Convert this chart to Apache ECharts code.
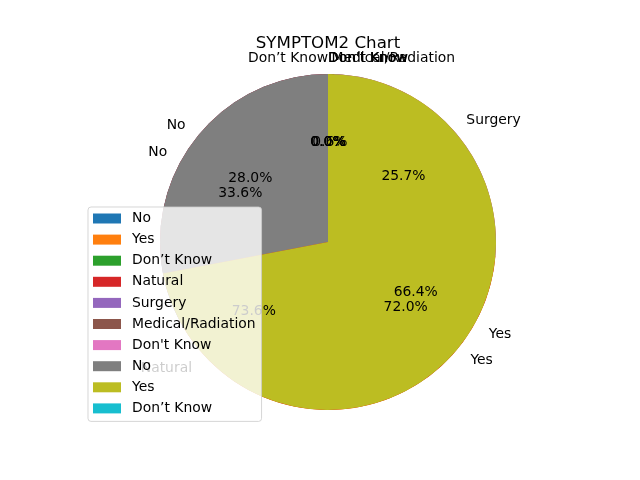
<!DOCTYPE html>
<html><head><meta charset="utf-8">
<script src="https://cdn.jsdelivr.net/npm/echarts@6/dist/echarts.min.js"></script>
<style>html,body{margin:0;padding:0;background:#fff}#c{width:640px;height:480px}</style>
</head><body><div id="c"></div>
<script>
const titleText = 'SYMPTOM2 Chart';
const pie1Labels = ['No', 'Yes', 'Don\u2019t Know'];
const pie1Values = [33.6, 66.4, 0.0];
const pie2Labels = ['Natural', 'Surgery', 'Medical/Radiation', "Don't Know"];
const pie2Values = [73.6, 25.7, 0.6, 0.0];
const pie3Labels = ['No', 'Yes', 'Don\u2019t Know'];
const pie3Values = [28.0, 72.0, 0.0];
const palette = ['#1f77b4','#ff7f0e','#2ca02c','#d62728','#9467bd','#8c564b','#e377c2','#7f7f7f','#bcbd22','#17becf'];
const zeroAlign = ['right', 'left', 'left'];

const CX = 328, CY = 242, R = 168;
const font = 'DejaVu Sans';
const pies = [[pie1Labels, pie1Values], [pie2Labels, pie2Values], [pie3Labels, pie3Values]];
const strip = s => s.split('#')[0];
let ci = 0;
const wedgeSeries = [], labelSeries = [], legendData = [];
pies.forEach(([labels, values], k) => {
  const wdata = labels.map((l, i) => {
    const name = l + '#w' + k + '_' + i;
    legendData.push(name);
    return {name: name, value: values[i], itemStyle: {color: palette[(ci++) % 10]}};
  });
  wedgeSeries.push({
    type: 'pie', center: [CX, CY], radius: R, startAngle: 90, clockwise: false, z: 2,
    label: {show: false}, labelLine: {show: false}, itemStyle: {borderWidth: 0},
    data: wdata, silent: true, emphasis: {disabled: true}, animation: false, avoidLabelOverlap: false
  });
  const common = {
    type: 'pie', center: [CX, CY], startAngle: 90, clockwise: false, z: 3, silent: true, radius: R,
    emphasis: {disabled: true}, animation: false, avoidLabelOverlap: false, minShowLabelAngle: 0,
    itemStyle: {color: 'rgba(0,0,0,0)', borderWidth: 0}, legendHoverLink: false
  };
  // name labels at 1.1 R
  labelSeries.push(Object.assign({}, common, {
    label: {show: true, position: 'outside', color: '#000', fontFamily: font, fontSize: 13.9,
      distanceToLabelLine: 0, formatter: p => strip(p.name)},
    labelLine: {show: false, length: 0.1 * R, length2: 0},
    labelLayout: p => (values[p.dataIndex] === 0 ? {align: zeroAlign[k], dy: 1} : {dy: 1}),
    data: labels.map((l, i) => ({name: l + '#o' + k + '_' + i, value: values[i]}))
  }));
  // percentage labels at 0.6 R
  labelSeries.push(Object.assign({}, common, {
    label: {show: true, position: 'outside', color: '#000', fontFamily: font, fontSize: 13.9,
      distanceToLabelLine: 0, formatter: p => p.value.toFixed(1) + '%'},
    labelLine: {show: false, length: -0.4 * R, length2: 0},
    labelLayout: () => ({align: 'center', dy: 1}),
    data: labels.map((l, i) => ({name: l + '#i' + k + '_' + i, value: values[i]}))
  }));
});

const chart = echarts.init(document.getElementById('c'));
chart.setOption({
  backgroundColor: '#fff',
  animation: false,
  textStyle: {fontFamily: font},
  title: {text: titleText, left: 328, top: 35, textAlign: 'center', padding: 0,
    textStyle: {fontFamily: font, fontSize: 16.67, fontWeight: 'normal', color: '#000'}},
  legend: {
    orient: 'vertical', left: 88, top: 207, data: legendData, formatter: strip,
    icon: 'rect', itemWidth: 28, itemHeight: 10, itemGap: 7.1, padding: [4.5, 6, 6, 5],
    backgroundColor: 'rgba(255,255,255,0.8)', borderColor: 'rgba(204,204,204,0.8)', borderWidth: 1, borderRadius: 3,
    textStyle: {fontFamily: font, fontSize: 13.9, color: '#000', padding: [0, 0, 0, 6]},
    selectedMode: false
  },
  series: wedgeSeries.concat(labelSeries)
});
</script></body></html>
